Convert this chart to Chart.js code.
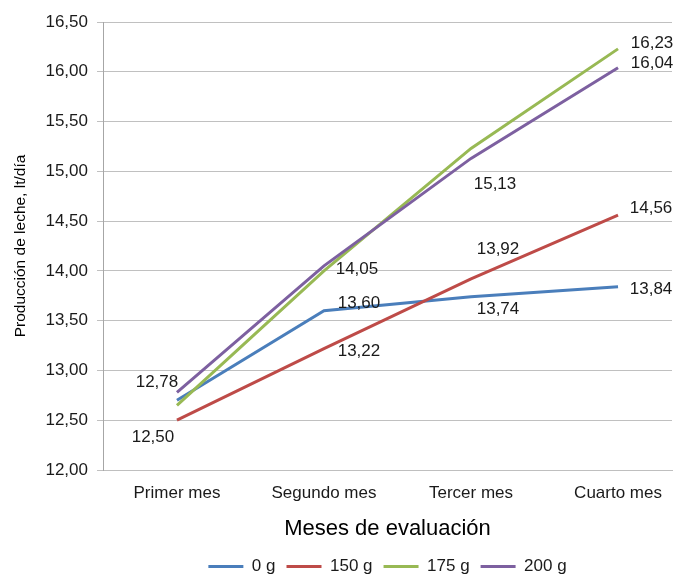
<!DOCTYPE html>
<html>
<head>
<meta charset="utf-8">
<script src="https://cdn.jsdelivr.net/npm/chart.js@4/dist/chart.umd.min.js"></script>
<style>
  body { margin: 0; background: #fff; }
  #wrap { width: 680px; height: 576px; }
</style>
</head>
<body>
<div id="wrap"><canvas id="grafico" width="680" height="576"></canvas></div>
<script>
// Datos del grafico
const meses = ['Primer mes', 'Segundo mes', 'Tercer mes', 'Cuarto mes'];
const series = ['0 g', '150 g', '175 g', '200 g'];
const dosis0 = [12.70, 13.60, 13.74, 13.84];
const dosis150 = [12.50, 13.22, 13.92, 14.56];
const dosis175 = [12.65, 14.00, 15.23, 16.23];
const dosis200 = [12.78, 14.05, 15.13, 16.04];
const yTicks = [12, 12.5, 13, 13.5, 14, 14.5, 15, 15.5, 16, 16.5];

const colores = ['#4A7EBB', '#BE4B48', '#98B954', '#7D60A0'];

// Etiquetas visibles y su desplazamiento respecto al punto (px)
const etiquetas = [
    [null, [35, -7], [27, 13], [33, 2]],
    [[-24, 17], [35, 3], [27, -30], [33, -7]],
    [null, null, null, [34, -6]],
    [[-20, -10], [33, 3], [24, 26], [34, -4]]
];

const fmt = v => v.toFixed(2).replace('.', ',');
const fuente = 'Liberation Sans, Arial, sans-serif';

// Plugin para dibujar los valores junto a las lineas
const valoresPlugin = {
    id: 'valores',
    afterDatasetsDraw(chart) {
        const ctx = chart.ctx;
        ctx.save();
        ctx.font = '17px ' + fuente;
        ctx.fillStyle = '#1a1a1a';
        ctx.textAlign = 'center';
        ctx.textBaseline = 'middle';
        chart.data.datasets.forEach((ds, i) => {
            const meta = chart.getDatasetMeta(i);
            meta.data.forEach((pt, j) => {
                const off = etiquetas[i][j];
                if (!off) return;
                ctx.fillText(fmt(ds.data[j].y), pt.x + off[0], pt.y + off[1]);
            });
        });
        ctx.restore();
    }
};

const valores = [dosis0, dosis150, dosis175, dosis200];
const datasets = series.map((nombre, i) => ({
    label: nombre,
    data: valores[i].map((v, j) => ({ x: j, y: v })),
    borderColor: colores[i],
    backgroundColor: colores[i],
    borderWidth: 3,
    pointRadius: 0,
    tension: 0,
    fill: false,
    order: series.length - i
}));

new Chart(document.getElementById('grafico'), {
    type: 'line',
    data: { datasets: datasets },
    options: {
        responsive: false,
        animation: false,
        layout: { padding: { top: 22, right: 8, left: 0, bottom: -9 } },
        plugins: {
            tooltip: { enabled: false },
            legend: {
                position: 'bottom',
                fullSize: false,
                labels: {
                    font: { family: fuente, size: 17 },
                    color: '#1a1a1a',
                    boxWidth: 35,
                    boxHeight: 3,
                    padding: 11,
                    sort: (a, b) => a.datasetIndex - b.datasetIndex,
                    generateLabels: function(chart) {
                        return Chart.defaults.plugins.legend.labels.generateLabels(chart).map(it => {
                            it.lineWidth = 0;
                            return it;
                        });
                    }
                }
            }
        },
        scales: {
            x: {
                type: 'linear',
                min: -0.503,
                max: 3.367,
                afterBuildTicks: scale => {
                    scale.ticks = meses.map((m, i) => ({ value: i }));
                },
                afterFit: scale => { scale.height = 77; },
                ticks: {
                    callback: v => meses[v],
                    font: { family: fuente, size: 17 },
                    color: '#1a1a1a',
                    padding: 13,
                    maxRotation: 0,
                    autoSkip: false
                },
                grid: { display: false, drawTicks: false },
                border: { display: true, color: '#bfbfbf' },
                title: {
                    display: true,
                    text: 'Meses de evaluación',
                    font: { family: fuente, size: 22 },
                    color: '#000',
                    padding: { top: 0, bottom: 5 }
                }
            },
            y: {
                min: 12,
                max: 16.5,
                afterBuildTicks: scale => {
                    scale.ticks = yTicks.map(v => ({ value: v }));
                },
                afterFit: scale => { scale.width = 103; },
                ticks: {
                    callback: v => fmt(v),
                    font: { family: fuente, size: 17 },
                    color: '#1a1a1a',
                    padding: 9
                },
                grid: { color: '#c0c0c0', tickLength: 6, lineWidth: 1 },
                border: { color: '#a6a6a6' },
                title: {
                    display: true,
                    text: 'Producción de leche, lt/día',
                    font: { family: fuente, size: 15.5 },
                    color: '#000',
                    padding: { top: 11, bottom: 0 }
                }
            }
        }
    },
    plugins: [valoresPlugin]
});
</script>
</body>
</html>
